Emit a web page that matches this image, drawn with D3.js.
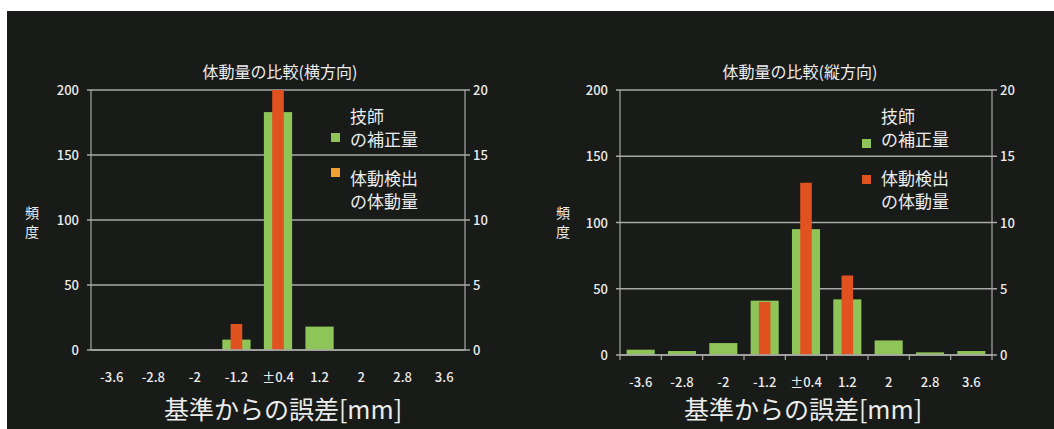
<!DOCTYPE html>
<html><head><meta charset="utf-8">
<script src="https://cdn.jsdelivr.net/npm/d3@7"></script>
<style>
html,body{margin:0;padding:0;background:#fff;}
svg{display:block;}
text{font-family:"Noto Sans CJK JP","Noto Sans",sans-serif;fill:#ececec;}
</style></head>
<body>
<svg id="chart" width="1054" height="429"></svg>
<script>
const categories = ["-3.6","-2.8","-2","-1.2","±0.4","1.2","2","2.8","3.6"];
const horizTech   = [0,0,0,8,183,18,0,0,0];
const horizDetect = [0,0,0,2,20,0,0,0,0];
const vertTech    = [4,3,9,41,95,42,11,2,3];
const vertDetect  = [0,0,0,4,13,6,0,0,0];
const leftTicks  = [0,50,100,150,200];
const rightTicks = [0,5,10,15,20];
const seriesNames = [["技師","の補正量"],["体動検出","の体動量"]];
const titles = ["体動量の比較(横方向)","体動量の比較(縦方向)"];
const xTitle = "基準からの誤差[mm]";
const yTitle = ["頻","度"];

const GREEN = "#8fc458", RED = "#e0521f";
const svg = d3.select("#chart");
svg.append("rect").attr("x",7).attr("y",11).attr("width",1047).attr("height",418).attr("fill","#181b18");

function panel(o){
  const g = svg.append("g");
  const x = d3.scaleBand().domain(categories).range([o.x0,o.x1]);
  const yL = d3.scaleLinear().domain([0,200]).range([o.yb,o.yt]);
  const yR = d3.scaleLinear().domain([0,20]).range([o.yb,o.yt]);
  const grid = "#a9a9a9";
  g.selectAll("line.grid").data(leftTicks).join("line")
    .attr("x1",o.x0-4).attr("x2",o.x1+5)
    .attr("y1",d=>yL(d)).attr("y2",d=>yL(d))
    .attr("stroke",grid).attr("stroke-width",1.4);
  [o.x0,o.x1].forEach(xx=>g.append("line").attr("x1",xx).attr("x2",xx)
     .attr("y1",o.yt).attr("y2",o.yb).attr("stroke",grid).attr("stroke-width",1.2));
  if(o.ticks){
    const b = x.domain().map(c=>x(c)).concat([o.x1]);
    g.selectAll("line.xt").data(b).join("line")
      .attr("x1",d=>d).attr("x2",d=>d).attr("y1",o.yb).attr("y2",o.yb+5)
      .attr("stroke",grid).attr("stroke-width",1.2);
  }
  g.selectAll("text.yl").data(leftTicks).join("text")
    .attr("x",o.x0-12).attr("y",d=>yL(d)+5).attr("text-anchor","end")
    .attr("font-size",13).attr("font-weight",500).text(d=>d);
  g.selectAll("text.yr").data(rightTicks).join("text")
    .attr("x",o.x1+8).attr("y",d=>yR(d)+5).attr("text-anchor","start")
    .attr("font-size",13).attr("font-weight",500).text(d=>d);
  const gw = x.bandwidth()*0.68, rw = x.bandwidth()*0.28;
  g.selectAll("rect.t").data(o.tech).join("rect")
    .attr("x",(d,i)=>x(categories[i])+(x.bandwidth()-gw)/2).attr("width",gw)
    .attr("y",d=>yL(d)).attr("height",d=>o.yb-yL(d)).attr("fill",GREEN);
  g.selectAll("rect.d").data(o.detect).join("rect")
    .attr("x",(d,i)=>x(categories[i])+(x.bandwidth()-rw)/2).attr("width",rw)
    .attr("y",d=>yR(d)).attr("height",d=>o.yb-yR(d)).attr("fill",RED);
  g.append("line").attr("x1",o.x0).attr("x2",o.x1).attr("y1",o.yb).attr("y2",o.yb)
    .attr("stroke",grid).attr("stroke-width",1.4);
  g.selectAll("text.xl").data(categories).join("text")
    .attr("x",d=>x(d)+x.bandwidth()/2).attr("y",o.xlY).attr("text-anchor","middle")
    .attr("font-size",13).attr("font-weight",500).text(d=>d);
  g.append("text").attr("x",o.titleX).attr("y",78).attr("text-anchor","middle")
    .attr("font-size",16).text(o.title);
  g.append("text").attr("x",o.titleX+3).attr("y",o.xtY).attr("text-anchor","middle")
    .attr("font-size",25).text(xTitle);
  g.selectAll("text.yt").data(yTitle).join("text")
    .attr("x",o.ytX).attr("y",(d,i)=>218+i*19).attr("text-anchor","middle")
    .attr("font-size",14).text(d=>d);
  const lg = g.append("g");
  lg.append("rect").attr("x",o.lgX).attr("y",o.lgY1).attr("width",9).attr("height",9).attr("fill",GREEN);
  lg.append("rect").attr("x",o.lgX).attr("y",o.lgY2).attr("width",9).attr("height",9).attr("fill",o.lgRed);
  const ty = [123,146,185,208];
  [seriesNames[0][0],seriesNames[0][1],seriesNames[1][0],seriesNames[1][1]].forEach((t,i)=>
    lg.append("text").attr("x",o.lgX+19).attr("y",ty[i]).attr("font-size",17).text(t));
}

panel({x0:91,x1:465,yb:350,yt:90,tech:horizTech,detect:horizDetect,ticks:false,
  xlY:382,titleX:280,title:titles[0],xtY:419,ytX:32,lgX:331,lgY1:133,lgY2:168,lgRed:"#f0a030"});
panel({x0:620,x1:992,yb:355,yt:90,tech:vertTech,detect:vertDetect,ticks:true,
  xlY:387,titleX:800,title:titles[1],xtY:419,ytX:563,lgX:862,lgY1:139,lgY2:175,lgRed:RED});
</script>
</body></html>
